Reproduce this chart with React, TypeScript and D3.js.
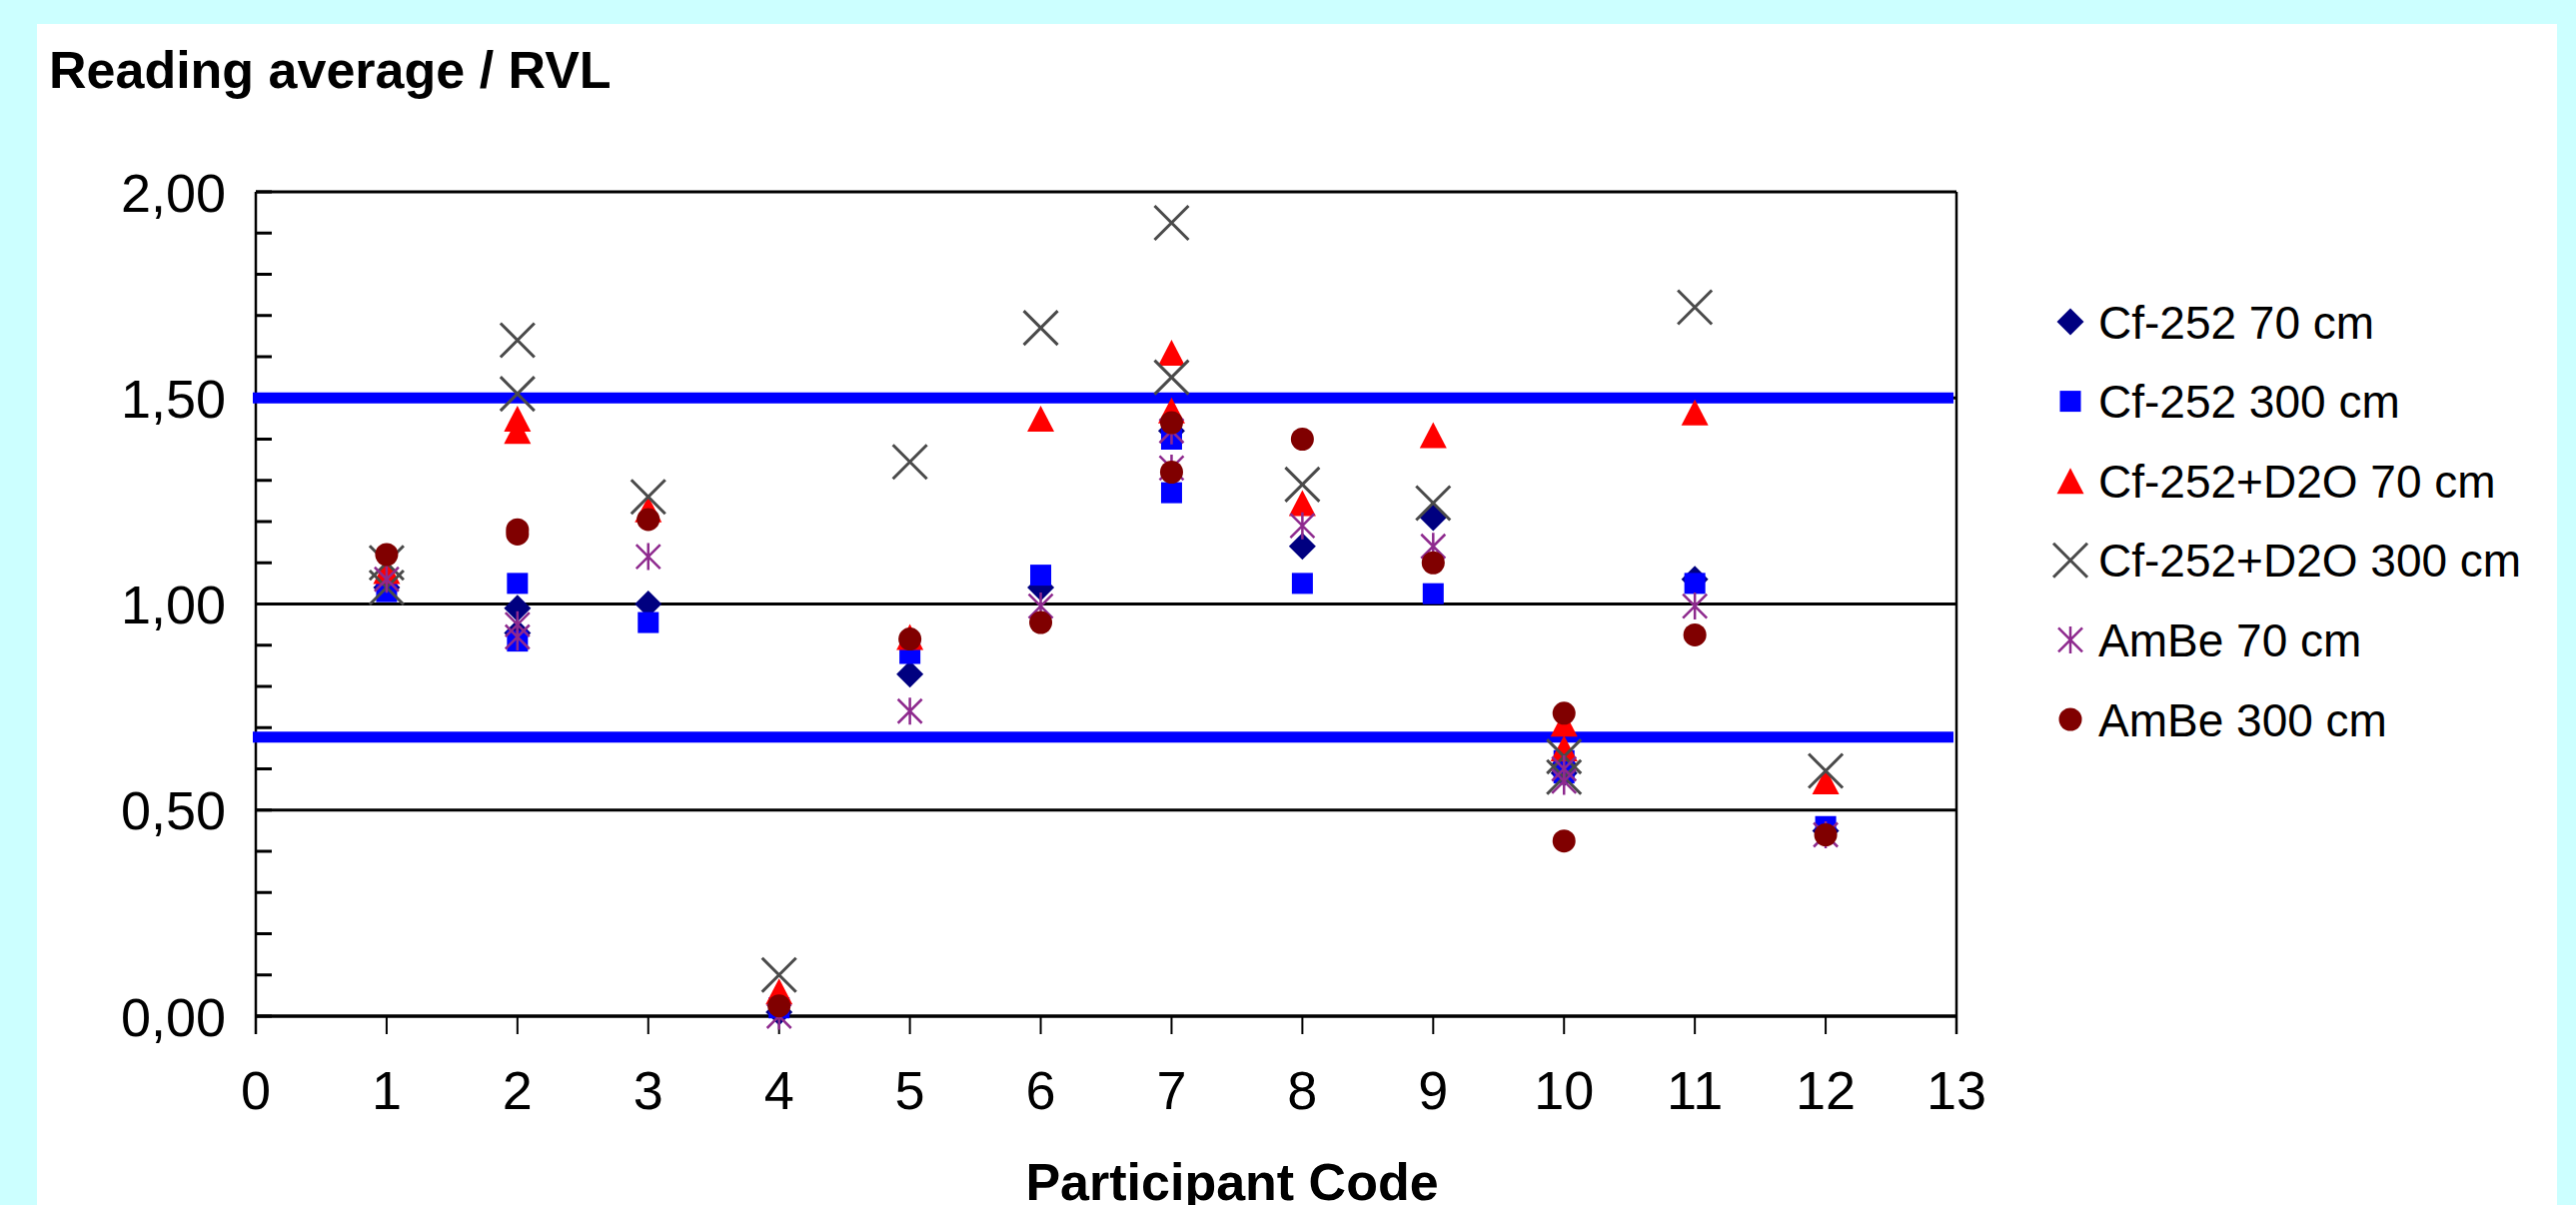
import * as d3 from 'd3';

// [participant code, reading average / RVL]
const cf252At70: [number, number][] = [
  [1, 1.04], [2, 0.99], [2, 0.93], [3, 1.0], [4, 0.01], [5, 0.83], [6, 1.04],
  [7, 1.42], [8, 1.14], [9, 1.21], [10, 0.61], [10, 0.59], [11, 1.06], [12, 0.45],
];
const cf252At300: [number, number][] = [
  [1, 1.03], [2, 1.05], [2, 0.91], [3, 0.955], [4, 0.02], [5, 0.88], [6, 1.07],
  [7, 1.4], [7, 1.27], [8, 1.05], [9, 1.025], [10, 0.62], [10, 0.59], [11, 1.05], [12, 0.46],
];
const cfD2OAt70: [number, number][] = [
  [1, 1.08], [2, 1.45], [2, 1.42], [3, 1.23], [4, 0.06], [5, 0.92], [6, 1.45],
  [7, 1.61], [7, 1.47], [8, 1.245], [9, 1.41], [10, 0.71], [10, 0.65], [11, 1.465], [12, 0.57],
];
const cfD2OAt300: [number, number][] = [
  [1, 1.1], [1, 1.04], [2, 1.64], [2, 1.51], [3, 1.26], [4, 0.1], [5, 1.345], [6, 1.67],
  [7, 1.925], [7, 1.55], [8, 1.29], [9, 1.245], [10, 0.63], [10, 0.58], [11, 1.72], [12, 0.595],
];
const amBeAt70: [number, number][] = [
  [1, 1.06], [2, 0.95], [2, 0.92], [3, 1.115], [4, 0.0], [5, 0.74], [6, 0.995],
  [7, 1.42], [7, 1.33], [8, 1.19], [9, 1.14], [10, 0.6], [10, 0.57], [11, 0.995], [12, 0.44],
];
const amBeAt300: [number, number][] = [
  [1, 1.12], [2, 1.18], [2, 1.17], [3, 1.205], [4, 0.025], [5, 0.915], [6, 0.955],
  [7, 1.44], [7, 1.32], [8, 1.4], [9, 1.1], [10, 0.735], [10, 0.425], [11, 0.925], [12, 0.44],
];

const seriesNames = [
  'Cf-252 70 cm',
  'Cf-252 300 cm',
  'Cf-252+D2O 70 cm',
  'Cf-252+D2O 300 cm',
  'AmBe 70 cm',
  'AmBe 300 cm',
];
const limitLines = [1.5, 0.677];

const W = 2578;
const H = 1206;
const plot = { left: 256, right: 1958, top: 192, bottom: 1017 };
const font = '"Liberation Sans", Arial, sans-serif';

const x = d3.scaleLinear().domain([0, 13]).range([plot.left, plot.right]);
const y = d3.scaleLinear().domain([0, 2]).range([plot.bottom, plot.top]);

const comma = d3.formatLocale({ decimal: ',', thousands: '.', grouping: [3], currency: ['', ''] });
const fmt = comma.format('.2f');

type Kind = 'diamond' | 'square' | 'triangle' | 'cross' | 'star' | 'circle';

const series: { name: string; data: [number, number][]; kind: Kind; color: string }[] = [
  { name: seriesNames[0], data: cf252At70, kind: 'diamond', color: '#000080' },
  { name: seriesNames[1], data: cf252At300, kind: 'square', color: '#0000ff' },
  { name: seriesNames[2], data: cfD2OAt70, kind: 'triangle', color: '#ff0000' },
  { name: seriesNames[3], data: cfD2OAt300, kind: 'cross', color: '#4a4a4a' },
  { name: seriesNames[4], data: amBeAt70, kind: 'star', color: '#8e2a8e' },
  { name: seriesNames[5], data: amBeAt300, kind: 'circle', color: '#800000' },
];

function Marker({ kind, color }: { kind: Kind; color: string }) {
  switch (kind) {
    case 'diamond':
      return <path d="M0,-13.5L13.5,0L0,13.5L-13.5,0Z" fill={color} />;
    case 'square':
      return <rect x={-10.5} y={-10.5} width={21} height={21} fill={color} />;
    case 'triangle':
      return <path d="M0,-13L13.5,13L-13.5,13Z" fill={color} />;
    case 'cross':
      return (
        <path d="M-17,-17L17,17M17,-17L-17,17" stroke={color} strokeWidth={3} fill="none" />
      );
    case 'star':
      return (
        <path d="M0,-13.5V13.5M-12,-12L12,12M12,-12L-12,12" stroke={color} strokeWidth={2.5} fill="none" />
      );
    default:
      return <circle r={11.5} fill={color} />;
  }
}

export default function App() {
  const xTicks = x.ticks(13);
  const majorY = y.ticks(4);
  const minorY = y.ticks(20);

  return (
    <div style={{ position: 'absolute', left: 0, top: 0 }}>
      <svg width={W} height={H} style={{ display: 'block' }}>
        <rect width={W} height={H} fill="#ccffff" />
        <rect x={37} y={24} width={2522} height={H - 24} fill="#ffffff" />

        <text x={49} y={88} fontFamily={font} fontWeight="bold" fontSize={52} fill="#000">
          Reading average / RVL
        </text>

        {/* gridlines */}
        {majorY.filter((d) => d > 0 && d < 2).map((d) => (
          <line key={d} x1={plot.left} x2={plot.right} y1={y(d)} y2={y(d)} stroke="#000" strokeWidth={3} />
        ))}
        <line x1={plot.left} x2={plot.right} y1={plot.top} y2={plot.top} stroke="#000" strokeWidth={3} />
        <line x1={plot.right} x2={plot.right} y1={plot.top} y2={plot.bottom + 18} stroke="#000" strokeWidth={2.5} />

        {/* minor y ticks inside */}
        {minorY.map((d) => (
          <line key={d} x1={plot.left} x2={plot.left + 16} y1={y(d)} y2={y(d)} stroke="#000" strokeWidth={3} />
        ))}
        <line x1={plot.left} x2={plot.left} y1={plot.top} y2={plot.bottom + 18} stroke="#000" strokeWidth={2.5} />

        {/* x axis */}
        <line x1={plot.left} x2={plot.right} y1={plot.bottom} y2={plot.bottom} stroke="#000" strokeWidth={3.5} />
        {xTicks.map((d) => (
          <g key={d}>
            <line x1={x(d)} x2={x(d)} y1={plot.bottom} y2={plot.bottom + 18} stroke="#000" strokeWidth={2} />
            <text x={x(d)} y={1110} textAnchor="middle" fontFamily={font} fontSize={54} fill="#000">
              {d}
            </text>
          </g>
        ))}

        {majorY.map((d) => (
          <text key={d} x={226} y={y(d) + 19.5} textAnchor="end" fontFamily={font} fontSize={54} fill="#000">
            {fmt(d)}
          </text>
        ))}

        {/* limit lines */}
        {limitLines.map((d) => (
          <line key={d} x1={253} x2={1955} y1={y(d)} y2={y(d)} stroke="#0000ff" strokeWidth={11} />
        ))}

        {/* points */}
        {series.map((s) => (
          <g key={s.name}>
            {s.data.map(([c, v], i) => (
              <g key={i} transform={`translate(${x(c)},${y(v)})`}>
                <Marker kind={s.kind} color={s.color} />
              </g>
            ))}
          </g>
        ))}

        <text x={1233} y={1201} textAnchor="middle" fontFamily={font} fontWeight="bold" fontSize={52} fill="#000">
          Participant Code
        </text>

        {/* legend */}
        {series.map((s, i) => {
          const cy = 322 + i * 79.6;
          return (
            <g key={s.name}>
              <g transform={`translate(2072,${cy})`}>
                <Marker kind={s.kind} color={s.color} />
              </g>
              <text x={2100} y={cy + 16.5} fontFamily={font} fontSize={46} fill="#000">
                {s.name}
              </text>
            </g>
          );
        })}
      </svg>
    </div>
  );
}
